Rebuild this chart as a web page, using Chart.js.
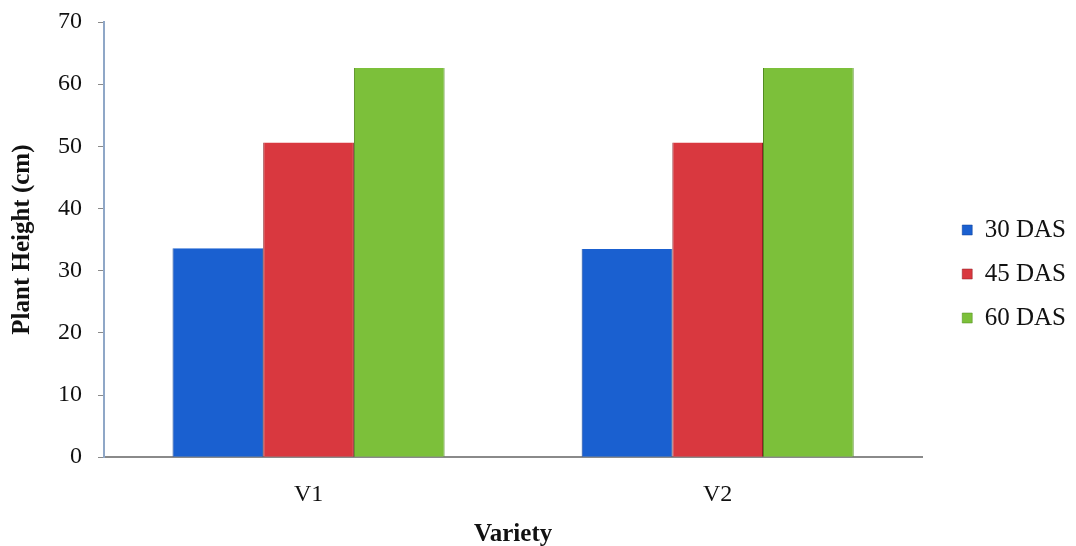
<!DOCTYPE html>
<html>
<head>
<meta charset="utf-8">
<script src="https://cdn.jsdelivr.net/npm/chart.js@4.4.0/dist/chart.umd.min.js"></script>
<style>
  html, body { margin: 0; padding: 0; background: #fff; }
  #wrap { width: 1076px; height: 546px; }
</style>
</head>
<body>
<div id="wrap"><canvas id="barChart" width="1076" height="546"></canvas></div>
<script>
// Data <----------------------------------------------------------------->
const varieties = ['V1', 'V2'];
const seriesNames = ['30 DAS', '45 DAS', '60 DAS'];
const das30 = [33.6, 33.5];
const das45 = [50.6, 50.6];
const das60 = [62.6, 62.6];
const yTicks = [0, 10, 20, 30, 40, 50, 60, 70];

const fills = ['#1a60d0', '#d9383f', '#7cc03a'];
const edges = ['#0d3f95', '#8e1f25', '#4f8a1c'];

const serif = 'Liberation Serif, Times New Roman, serif';

const ctx = document.getElementById('barChart').getContext('2d');

new Chart(ctx, {
    type: 'bar',
    data: {
        labels: varieties,
        datasets: [das30, das45, das60].map(function(values, i) {
            return {
                label: seriesNames[i],
                data: values,
                backgroundColor: fills[i],
                borderColor: edges[i],
                borderWidth: { left: 1, right: 1, top: 0, bottom: 0 },
                barPercentage: 1.0,
                categoryPercentage: 0.665
            };
        })
    },
    options: {
        responsive: false,
        animation: false,
        layout: { padding: { top: 2, right: 0, bottom: 0, left: 6 } },
        plugins: {
            legend: {
                position: 'right',
                labels: {
                    boxWidth: 10,
                    boxHeight: 10,
                    padding: 19,
                    color: '#111',
                    font: { family: serif, size: 25 }
                }
            },
            tooltip: { enabled: false }
        },
        scales: {
            x: {
                grid: { display: false, drawTicks: false },
                border: { display: true, color: '#8a8a8a', width: 2 },
                ticks: {
                    color: '#111',
                    padding: 23,
                    font: { family: serif, size: 24 }
                },
                title: {
                    display: true,
                    text: 'Variety',
                    color: '#111',
                    padding: { top: -10, bottom: -1 },
                    font: { family: serif, size: 25, weight: 'bold', lineHeight: 1 }
                }
            },
            y: {
                min: 0,
                max: 70,
                afterBuildTicks: function(axis) {
                    axis.ticks = yTicks.map(function(v) { return { value: v }; });
                },
                grid: { display: true, drawOnChartArea: false, drawTicks: true, tickLength: 6, color: '#8a8a8a' },
                border: { display: true, color: '#8fa7c7', width: 2 },
                ticks: {
                    color: '#111',
                    padding: 16,
                    font: { family: serif, size: 24, lineHeight: 0.5 }
                },
                title: {
                    display: true,
                    text: 'Plant Height (cm)',
                    color: '#111',
                    padding: { top: 4, bottom: 7 },
                    font: { family: serif, size: 25, weight: 'bold', lineHeight: 1 }
                }
            },
            // empty strip between the plot and the legend
            gap: {
                position: 'right',
                display: true,
                grid: { display: false },
                border: { display: false },
                ticks: { display: false },
                afterFit: function(scale) { scale.width = 21; }
            }
        }
    }
});
</script>
</body>
</html>
